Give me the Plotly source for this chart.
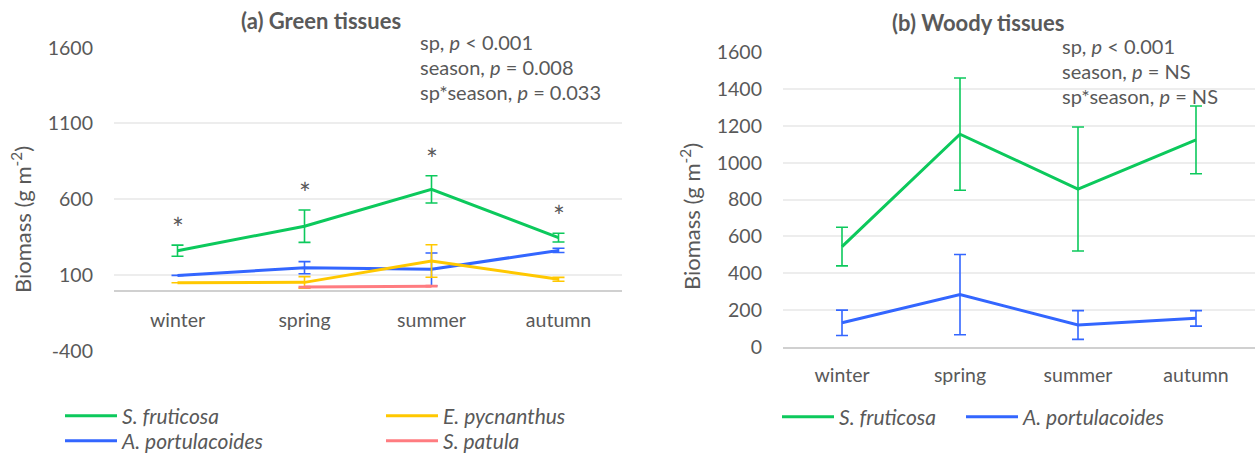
import plotly.graph_objects as go

# ---- data ----
seasons = ["winter", "spring", "summer", "autumn"]

# (a) green tissues, mean and error (g m-2)
green_sf = [260, 422, 665, 346]
green_sf_err = [37, 107, 90, 29]
green_ep = [49, 51, 192, 71]
green_ep_err = [None, 38, 107, 13]
green_ap = [97, 148, 137, 262]
green_ap_err = [None, 40, 108, 14]
green_spa = [None, 20, 26, None]
green_spa_err = [None, 4, 4, None]

# (b) woody tissues, mean and error (g m-2)
woody_sf = [544, 1155, 857, 1124]
woody_sf_err = [105, 305, 337, 184]
woody_ap = [130, 283, 118, 154]
woody_ap_err = [69, 218, 78, 42]

# significance markers above S. fruticosa in (a)
green_marks = ["*", "*", "*", "*"]

stats_a = ["sp, <i>p</i> < 0.001", "season, <i>p</i> = 0.008", "sp*season, <i>p</i> = 0.033"]
stats_b = ["sp, <i>p</i> < 0.001", "season, <i>p</i> = NS", "sp*season, <i>p</i> = NS"]

ticks_a = [-400, 100, 600, 1100, 1600]
ticks_b = [0, 200, 400, 600, 800, 1000, 1200, 1400, 1600]

y_title = "Biomass (g m<sup>-2</sup>)"

# ---- style ----
FONT = "Lato, 'Open Sans', sans-serif"
TXT = "#595959"
C_SF = "#0CC95C"
C_AP = "#3366FF"
C_EP = "#FFC800"
C_SPA = "#FF7C80"
GRID = "#EDEDED"
AXLINE = "#D0D0D0"

W, H = 1255, 454


def px_x(p):
    return p / W


def px_y(p):
    return 1 - p / H


fig = go.Figure()


def add_series(x, y, err, color, name, xa, ya, legend, rank):
    fig.add_trace(go.Scatter(
        x=x, y=y, mode="lines", name=name,
        line=dict(color=color, width=3),
        error_y=dict(type="data", array=err, visible=True, color=color,
                     thickness=1.6, width=6),
        xaxis=xa, yaxis=ya, legend=legend, legendrank=rank,
        connectgaps=False, hoverinfo="x+y",
    ))


# legend rows of panel (a) are split over two legends (two entries each)
add_series(seasons, green_sf, green_sf_err, C_SF, "<i>S. fruticosa</i>", "x", "y", "legend", 1)
add_series(seasons, green_ap, green_ap_err, C_AP, "<i>A. portulacoides</i>", "x", "y", "legend3", 1)
add_series(seasons, green_ep, green_ep_err, C_EP, "<i>E. pycnanthus</i>", "x", "y", "legend", 2)
add_series(seasons, green_spa, green_spa_err, C_SPA, "<i>S. patula</i>", "x", "y", "legend3", 2)

# panel (b): one legend per entry
add_series(seasons, woody_sf, woody_sf_err, C_SF, "<i>S. fruticosa</i>", "x2", "y2", "legend2", 1)
add_series(seasons, woody_ap, woody_ap_err, C_AP, "<i>A. portulacoides</i>", "x2", "y2", "legend4", 1)

annotations = []

# asterisks above the S. fruticosa error bars
for s, m, e, t in zip(seasons, green_sf, green_sf_err, green_marks):
    annotations.append(dict(
        x=s, y=m + e, xref="x", yref="y", text=t, showarrow=False,
        yanchor="bottom", yshift=-2, font=dict(family=FONT, size=28, color=TXT),
    ))

STAT_FONT = dict(family=FONT, size=20, color=TXT)
# statistics text blocks
for i, t in enumerate(stats_a):
    annotations.append(dict(
        x=px_x(418), y=px_y(42 + 25 * i), xref="paper", yref="paper", text=t,
        showarrow=False, xanchor="left", yanchor="middle", font=STAT_FONT,
    ))
for i, t in enumerate(stats_b):
    annotations.append(dict(
        x=px_x(1060), y=px_y(46 + 25 * i), xref="paper", yref="paper", text=t,
        showarrow=False, xanchor="left", yanchor="middle", font=STAT_FONT,
    ))

# panel titles
TITLE_FONT = dict(family=FONT, size=22, color=TXT)
annotations.append(dict(x=px_x(321), y=px_y(20), xref="paper", yref="paper",
                        xanchor="center", yanchor="middle",
                        text="<b>(a) Green tissues</b>", showarrow=False, font=TITLE_FONT))
annotations.append(dict(x=px_x(978), y=px_y(22), xref="paper", yref="paper",
                        xanchor="center", yanchor="middle",
                        text="<b>(b) Woody tissues</b>", showarrow=False, font=TITLE_FONT))

# vertical axis titles
AXT_FONT = dict(family=FONT, size=22, color=TXT)
annotations.append(dict(x=px_x(21), y=px_y(220), xref="paper", yref="paper",
                        xanchor="center", yanchor="middle", textangle=-90,
                        text=y_title, showarrow=False, font=AXT_FONT))
annotations.append(dict(x=px_x(690), y=px_y(217), xref="paper", yref="paper",
                        xanchor="center", yanchor="middle", textangle=-90,
                        text=y_title, showarrow=False, font=AXT_FONT))

tickfont = dict(family=FONT, size=19.5, color=TXT)
legfont = dict(family=FONT, size=21, color=TXT)

legend_common = dict(
    orientation="h", xanchor="left", yanchor="middle", font=legfont,
    itemwidth=52, entrywidthmode="pixels", bgcolor="rgba(0,0,0,0)",
    traceorder="normal",
)

fig.update_layout(
    width=W, height=H,
    margin=dict(l=0, r=0, t=0, b=0, autoexpand=False),
    paper_bgcolor="white", plot_bgcolor="white",
    font=dict(family=FONT, color=TXT),
    annotations=annotations,
    xaxis=dict(
        domain=[px_x(114), px_x(622)], range=[-0.5, 3.5],
        anchor="free", position=px_y(290.7),
        showline=True, linecolor=AXLINE, linewidth=1.5,
        showgrid=False, ticks="", tickfont=tickfont, ticklabelstandoff=12,
        fixedrange=True,
    ),
    yaxis=dict(
        domain=[px_y(350.7), px_y(47.7)], range=[-400, 1600],
        tickvals=ticks_a, ticktext=[str(v) for v in ticks_a],
        showgrid=True, gridcolor=GRID, gridwidth=1.5,
        zeroline=False, ticks="", tickfont=tickfont, ticklabelstandoff=20,
        anchor="x",
    ),
    xaxis2=dict(
        domain=[px_x(783), 1.0], range=[-0.5, 3.5],
        anchor="y2", showline=True, linecolor=AXLINE, linewidth=1.5,
        showgrid=False, ticks="", tickfont=tickfont, ticklabelstandoff=10,
    ),
    yaxis2=dict(
        domain=[px_y(346.7), px_y(52.3)], range=[0, 1600],
        tickvals=ticks_b, ticktext=[str(v) for v in ticks_b],
        showgrid=True, gridcolor=GRID, gridwidth=1.5,
        zeroline=False, ticks="", tickfont=tickfont, ticklabelstandoff=20,
        anchor="x2",
    ),
    legend=dict(legend_common, x=px_x(60), y=px_y(416), entrywidth=254),
    legend3=dict(legend_common, x=px_x(60), y=px_y(441), entrywidth=254),
    legend2=dict(legend_common, x=px_x(777), y=px_y(417)),
    legend4=dict(legend_common, x=px_x(961), y=px_y(417)),
    showlegend=True,
)

fig.write_html("out.html")
